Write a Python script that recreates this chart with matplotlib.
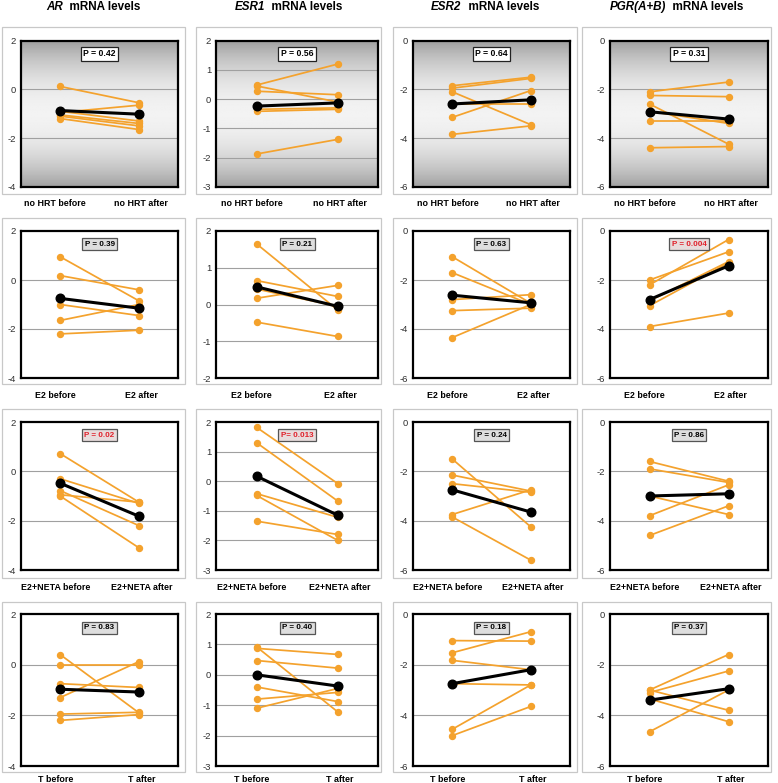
import matplotlib
matplotlib.use('Agg')
import matplotlib.pyplot as plt
import numpy as np
from matplotlib.patches import Rectangle
from matplotlib.transforms import blended_transform_factory

plt.rcParams['font.family'] = ['Liberation Sans', 'DejaVu Sans']

# ---------------- data ----------------
genes = ['AR', 'ESR1', 'ESR2', 'PGR(A+B)']
treatments = ['no HRT', 'E2', 'E2+NETA', 'T']

# AR
ar_nohrt_before = [0.12, -0.95, -0.90, -1.05, -1.10, -1.20]
ar_nohrt_after = [-0.55, -0.65, -1.30, -1.40, -1.50, -1.65]
ar_e2_before = [0.95, 0.18, -1.00, -1.65, -2.20]
ar_e2_after = [-0.85, -0.40, -1.45, -1.00, -2.05]
ar_neta_before = [0.72, -0.30, -0.78, -0.95, -1.00]
ar_neta_after = [-1.25, -1.30, -2.20, -1.25, -3.10]
ar_t_before = [0.40, 0.00, -0.75, -1.30, -1.95, -2.20]
ar_t_after = [-1.90, 0.00, -0.90, 0.12, -1.88, -1.97]
ar_mean_before = [-0.87, -0.75, -0.48, -0.97]
ar_mean_after = [-1.02, -1.15, -1.82, -1.08]
ar_p = ['P = 0.42', 'P = 0.39', 'P = 0.02', 'P = 0.83']

# ESR1
esr1_nohrt_before = [0.48, 0.45, 0.27, -0.35, -0.42, -1.88]
esr1_nohrt_after = [1.20, -0.10, 0.15, -0.30, -0.35, -1.38]
esr1_e2_before = [1.65, 0.65, 0.42, 0.17, -0.48]
esr1_e2_after = [-0.15, 0.22, -0.05, 0.52, -0.87]
esr1_neta_before = [1.82, 1.30, -0.42, -0.48, -1.35]
esr1_neta_after = [-0.08, -0.67, -1.22, -2.00, -1.80]
esr1_t_before = [0.92, 0.87, 0.47, -0.40, -0.80, -1.10]
esr1_t_after = [-1.22, 0.67, 0.22, -0.88, -0.58, -0.45]
esr1_mean_before = [-0.24, 0.48, 0.17, 0.00]
esr1_mean_after = [-0.13, -0.05, -1.15, -0.37]
esr1_p = ['P = 0.56', 'P = 0.21', 'P= 0.013', 'P = 0.40']

# ESR2
esr2_nohrt_before = [-1.85, -1.95, -2.10, -3.15, -3.85, -2.60]
esr2_nohrt_after = [-1.50, -1.55, -3.45, -2.05, -3.50, -2.60]
esr2_e2_before = [-1.05, -1.70, -2.80, -3.25, -4.35]
esr2_e2_after = [-2.95, -3.00, -2.60, -3.15, -3.00]
esr2_neta_before = [-1.50, -2.15, -2.50, -3.75, -3.85]
esr2_neta_after = [-4.25, -2.80, -2.85, -2.75, -5.60]
esr2_t_before = [-1.05, -1.53, -1.83, -2.75, -4.55, -4.80]
esr2_t_after = [-1.07, -0.70, -2.20, -2.80, -2.80, -3.65]
esr2_mean_before = [-2.60, -2.62, -2.75, -2.75]
esr2_mean_after = [-2.43, -2.93, -3.65, -2.20]
esr2_p = ['P = 0.64', 'P = 0.63', 'P = 0.24', 'P = 0.18']

# PGR(A+B)
pgr_nohrt_before = [-2.10, -2.25, -2.60, -3.30, -4.40, -2.90]
pgr_nohrt_after = [-1.70, -2.30, -4.25, -3.30, -4.35, -3.40]
pgr_e2_before = [-2.00, -2.20, -2.85, -3.05, -3.90]
pgr_e2_after = [-0.85, -0.35, -1.25, -1.30, -3.35]
pgr_neta_before = [-1.60, -1.90, -3.00, -3.80, -4.60]
pgr_neta_after = [-2.40, -2.45, -3.75, -2.55, -3.40]
pgr_t_before = [-3.00, -3.10, -3.00, -3.35, -4.65]
pgr_t_after = [-1.60, -2.25, -3.80, -4.25, -3.00]
pgr_mean_before = [-2.92, -2.80, -3.00, -3.40]
pgr_mean_after = [-3.22, -1.42, -2.91, -2.95]
pgr_p = ['P = 0.31', 'P = 0.004', 'P = 0.86', 'P = 0.37']

significant = {('AR', 2), ('ESR1', 2), ('PGR(A+B)', 1)}

before = {
    'AR': [ar_nohrt_before, ar_e2_before, ar_neta_before, ar_t_before],
    'ESR1': [esr1_nohrt_before, esr1_e2_before, esr1_neta_before, esr1_t_before],
    'ESR2': [esr2_nohrt_before, esr2_e2_before, esr2_neta_before, esr2_t_before],
    'PGR(A+B)': [pgr_nohrt_before, pgr_e2_before, pgr_neta_before, pgr_t_before],
}
after = {
    'AR': [ar_nohrt_after, ar_e2_after, ar_neta_after, ar_t_after],
    'ESR1': [esr1_nohrt_after, esr1_e2_after, esr1_neta_after, esr1_t_after],
    'ESR2': [esr2_nohrt_after, esr2_e2_after, esr2_neta_after, esr2_t_after],
    'PGR(A+B)': [pgr_nohrt_after, pgr_e2_after, pgr_neta_after, pgr_t_after],
}
mean_before = {'AR': ar_mean_before, 'ESR1': esr1_mean_before,
               'ESR2': esr2_mean_before, 'PGR(A+B)': pgr_mean_before}
mean_after = {'AR': ar_mean_after, 'ESR1': esr1_mean_after,
              'ESR2': esr2_mean_after, 'PGR(A+B)': pgr_mean_after}
pvals = {'AR': ar_p, 'ESR1': esr1_p, 'ESR2': esr2_p, 'PGR(A+B)': pgr_p}

ylims = {
    'AR': [(-4, 2)] * 4,
    'ESR1': [(-3, 2), (-2, 2), (-3, 2), (-3, 2)],
    'ESR2': [(-6, 0)] * 4,
    'PGR(A+B)': [(-6, 0)] * 4,
}
ystep = {'AR': 2, 'ESR1': 1, 'ESR2': 2, 'PGR(A+B)': 2}

# ---------------- layout (pixels) ----------------
W, H = 778, 783
col_inner = [(20.7, 178.3), (216, 378.3), (413, 570), (610, 768)]
col_outer = [(1.7, 184.5), (196, 380.5), (393, 577), (582, 771)]
row_inner = [(40.7, 186.7), (231, 378), (422, 570), (614, 766)]
row_outer = [(27, 194), (218, 384), (409, 578), (602, 772)]
label_y = [203, 395, 587, 779]
title_y = 10.3

ORANGE = '#F4A22D'

fig = plt.figure(figsize=(W / 100, H / 100), dpi=100)
fig.patch.set_facecolor('white')


def fx(x):
    return x / W


def fy(y):
    return 1 - y / H


for ci, gene in enumerate(genes):
    for ri in range(4):
        ox0, ox1 = col_outer[ci]
        oy0, oy1 = row_outer[ri]
        fig.patches.append(Rectangle((fx(ox0), fy(oy1)), fx(ox1 - ox0), (oy1 - oy0) / H,
                                     transform=fig.transFigure, fill=False,
                                     ec='#c8c8c8', lw=0.9, zorder=0))
        x0, x1 = col_inner[ci]
        y0, y1 = row_inner[ri]
        ax = fig.add_axes([fx(x0), fy(y1), fx(x1 - x0), (y1 - y0) / H])
        lo, hi = ylims[gene][ri]
        ax.set_xlim(-0.5, 1.5)
        ax.set_ylim(lo, hi)
        ticks = np.arange(lo, hi + 0.01, ystep[gene])
        ax.set_yticks(ticks)
        ax.set_yticklabels([f'{int(t)}' for t in ticks])
        ax.set_xticks([])
        ax.tick_params(axis='y', length=0, pad=3.5, labelsize=6.8, labelcolor='#303030')
        for s in ax.spines.values():
            s.set_linewidth(1.6)
            s.set_color('black')
        if ri == 0:
            t = np.linspace(0, 1, 256)
            v = 0.63 + 0.32 * (1 - ((t - 0.5) / 0.5) ** 2)
            grad = np.tile(v[:, None], (1, 2))
            ax.imshow(grad, extent=[-0.5, 1.5, lo, hi], aspect='auto', cmap='gray',
                      vmin=0, vmax=1, zorder=0, interpolation='bilinear')
        for t in ticks[1:-1]:
            ax.axhline(t, color='#a0a0a0', lw=0.8, zorder=1)
        b = before[gene][ri]
        a = after[gene][ri]
        for yb, ya in zip(b, a):
            ax.plot([0, 1], [yb, ya], color=ORANGE, lw=1.25, marker='o', ms=4.3,
                    mec=ORANGE, mfc=ORANGE, zorder=3)
        ax.plot([0, 1], [mean_before[gene][ri], mean_after[gene][ri]], color='black',
                lw=2.2, marker='o', ms=6.2, zorder=4)
        sig = (gene, ri) in significant
        if ri == 0:
            fc, ec, fs = 'white', '#222222', 6.2
        else:
            fc, ec, fs = ('#e8dcdc' if sig else '#dedede'), '#555555', 5.8
        ax.text(0.5, 0.91, pvals[gene][ri], transform=ax.transAxes, ha='center',
                va='center', fontsize=fs, fontweight='bold',
                color='#e0202a' if sig else 'black', zorder=6,
                bbox=dict(boxstyle='square,pad=0.3', fc=fc, ec=ec, lw=0.9))
        tr = blended_transform_factory(ax.transData, fig.transFigure)
        trt = treatments[ri]
        ax.text(-0.06, fy(label_y[ri]), f'{trt} before', transform=tr, ha='center',
                va='center', fontsize=6.4, fontweight='bold')
        ax.text(1.03, fy(label_y[ri]), f'{trt} after', transform=tr, ha='center',
                va='center', fontsize=6.4, fontweight='bold')

# titles with italic gene names
renderer = fig.canvas.get_renderer()
for ci, gene in enumerate(genes):
    cx = (col_outer[ci][0] + col_outer[ci][1]) / 2
    t1 = fig.text(0, fy(title_y), gene, fontsize=8.4, fontweight='bold',
                  fontstyle='italic', va='baseline', ha='left')
    t2 = fig.text(0, fy(title_y), '  mRNA levels', fontsize=8.4, fontweight='bold',
                  va='baseline', ha='left')
    w1 = t1.get_window_extent(renderer).width
    w2 = t2.get_window_extent(renderer).width
    start = cx - (w1 + w2) / 2
    t1.set_x(fx(start))
    t2.set_x(fx(start + w1))

fig.savefig('out.png', dpi=100)
